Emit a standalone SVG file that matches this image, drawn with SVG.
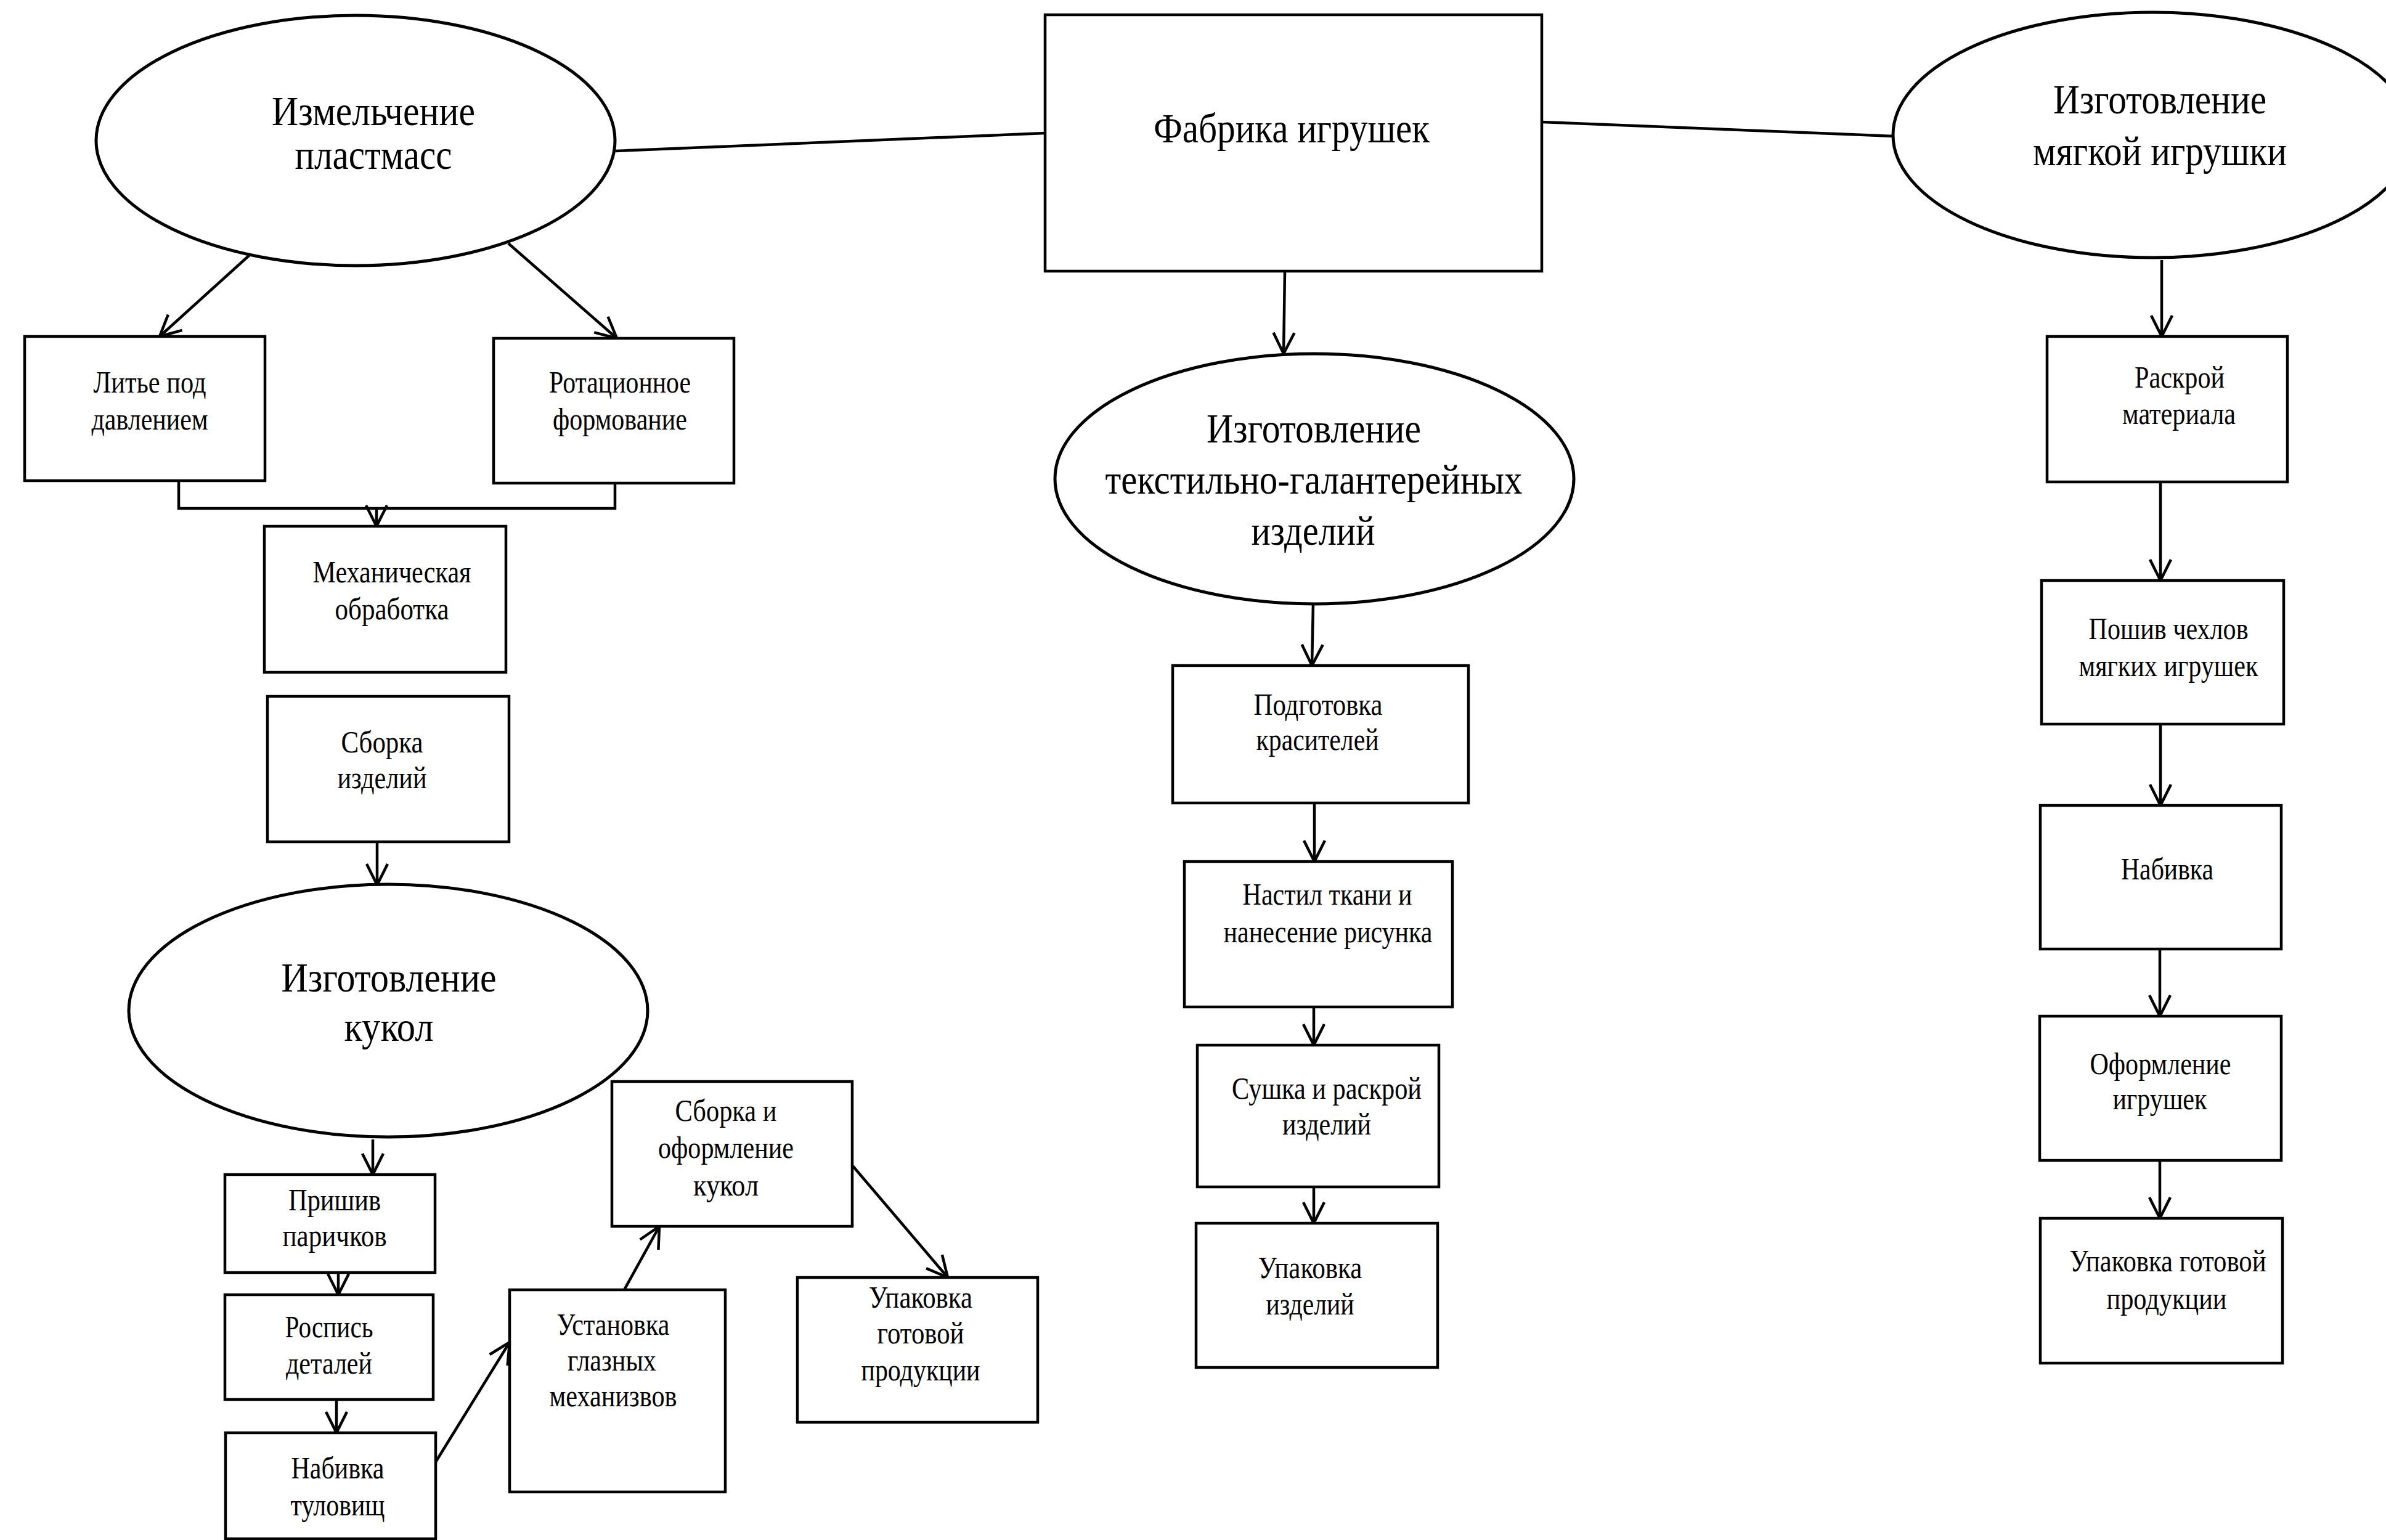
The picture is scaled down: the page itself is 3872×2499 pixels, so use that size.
<svg xmlns="http://www.w3.org/2000/svg" width="3872" height="2499" viewBox="0 0 3872 2499">
<defs>
<marker id="arr" markerUnits="userSpaceOnUse" markerWidth="50" markerHeight="50" refX="0" refY="0" viewBox="-40 -25 50 50" orient="auto" overflow="visible">
<path d="M-34,-17 L0,0 L-34,17" fill="none" stroke="#000" stroke-width="4.5"/>
</marker>
<style>
.n rect,.n ellipse{fill:#fff;stroke:#000;stroke-width:4.5}
.n ellipse{stroke-width:5}
.c line,.c polyline{stroke:#000;stroke-width:4.5;fill:none}
.a{marker-end:url(#arr)}
text{font-family:"Liberation Serif","Times New Roman",serif;fill:#000;text-anchor:middle}
.L{font-size:68px}
.S{font-size:50px}
</style>
</defs>
<rect x="0" y="0" width="3872" height="2499" style="fill:#fff;stroke:none"/>

<g class="c" id="connectors">
<line class="a" x1="406" y1="413" x2="259" y2="546"/>
<line class="a" x1="825" y1="395" x2="1001" y2="549"/>
<polyline points="290,780 290,825 998,825 998,784"/>
<line class="a" x1="611" y1="825" x2="611" y2="854"/>
<line x1="999" y1="245" x2="1696" y2="216"/>
<line x1="2502" y1="198" x2="3072" y2="221"/>
<line class="a" x1="2085" y1="440" x2="2083" y2="574"/>
<line class="a" x1="2131" y1="980" x2="2129" y2="1080"/>
<line class="a" x1="2133" y1="1303" x2="2133" y2="1398"/>
<line class="a" x1="2132" y1="1634" x2="2132" y2="1696"/>
<line class="a" x1="2132" y1="1926" x2="2132" y2="1985"/>
<line class="a" x1="3508" y1="422" x2="3508" y2="546"/>
<line class="a" x1="3506" y1="782" x2="3506" y2="942"/>
<line class="a" x1="3506" y1="1175" x2="3506" y2="1307"/>
<line class="a" x1="3505" y1="1540" x2="3505" y2="1649"/>
<line class="a" x1="3505" y1="1883" x2="3505" y2="1977"/>
<line class="a" x1="612" y1="1366" x2="612" y2="1436"/>
<line class="a" x1="605" y1="1849" x2="605" y2="1906"/>
<line class="a" x1="549" y1="2065" x2="549" y2="2101"/>
<line class="a" x1="546" y1="2271" x2="546" y2="2325"/>
<line class="a" x1="706" y1="2374" x2="827" y2="2178"/>
<line class="a" x1="1013" y1="2093" x2="1070" y2="1990"/>
<line class="a" x1="1383" y1="1891" x2="1538" y2="2073"/>
</g>

<g class="n" id="n-plastic">
<ellipse cx="577" cy="228" rx="421" ry="203"/>
<text class="L" x="606" y="203" textLength="330" lengthAdjust="spacingAndGlyphs">Измельчение</text>
<text class="L" x="606" y="274" textLength="255" lengthAdjust="spacingAndGlyphs">пластмасс</text>
</g>
<g class="n" id="n-factory">
<rect x="1696" y="24" width="806" height="416"/>
<text class="L" x="2096" y="231" textLength="448" lengthAdjust="spacingAndGlyphs">Фабрика игрушек</text>
</g>
<g class="n" id="n-soft">
<ellipse cx="3493" cy="219" rx="421" ry="199"/>
<text class="L" x="3505" y="184" textLength="346" lengthAdjust="spacingAndGlyphs">Изготовление</text>
<text class="L" x="3505" y="268" textLength="412" lengthAdjust="spacingAndGlyphs">мягкой игрушки</text>
</g>
<g class="n" id="n-textile">
<ellipse cx="2133" cy="777" rx="421" ry="203"/>
<text class="L" x="2132" y="718" textLength="348" lengthAdjust="spacingAndGlyphs">Изготовление</text>
<text class="L" x="2132" y="801" textLength="677" lengthAdjust="spacingAndGlyphs">текстильно-галантерейных</text>
<text class="L" x="2131" y="884" textLength="201" lengthAdjust="spacingAndGlyphs">изделий</text>
</g>
<g class="n" id="n-dolls">
<ellipse cx="630" cy="1640" rx="421" ry="205"/>
<text class="L" x="631" y="1609" textLength="349" lengthAdjust="spacingAndGlyphs">Изготовление</text>
<text class="L" x="631" y="1689" textLength="145" lengthAdjust="spacingAndGlyphs">кукол</text>
</g>

<g class="n" id="n-lite">
<rect x="40" y="546" width="390" height="234"/>
<text class="S" x="243" y="637" textLength="183" lengthAdjust="spacingAndGlyphs">Литье под</text>
<text class="S" x="243" y="697" textLength="189" lengthAdjust="spacingAndGlyphs">давлением</text>
</g>
<g class="n" id="n-rot">
<rect x="801" y="549" width="390" height="235"/>
<text class="S" x="1006" y="637" textLength="230" lengthAdjust="spacingAndGlyphs">Ротационное</text>
<text class="S" x="1006" y="697" textLength="218" lengthAdjust="spacingAndGlyphs">формование</text>
</g>
<g class="n" id="n-mech">
<rect x="429" y="854" width="392" height="237"/>
<text class="S" x="636" y="945" textLength="257" lengthAdjust="spacingAndGlyphs">Механическая</text>
<text class="S" x="636" y="1005" textLength="185" lengthAdjust="spacingAndGlyphs">обработка</text>
</g>
<g class="n" id="n-assembly">
<rect x="434" y="1130" width="392" height="236"/>
<text class="S" x="620" y="1221" textLength="133" lengthAdjust="spacingAndGlyphs">Сборка</text>
<text class="S" x="620" y="1279" textLength="145" lengthAdjust="spacingAndGlyphs">изделий</text>
</g>
<g class="n" id="n-wigs">
<rect x="365" y="1906" width="341" height="159"/>
<text class="S" x="543" y="1964" textLength="150" lengthAdjust="spacingAndGlyphs">Пришив</text>
<text class="S" x="543" y="2022" textLength="169" lengthAdjust="spacingAndGlyphs">паричков</text>
</g>
<g class="n" id="n-paint">
<rect x="365" y="2101" width="338" height="170"/>
<text class="S" x="534" y="2170" textLength="143" lengthAdjust="spacingAndGlyphs">Роспись</text>
<text class="S" x="534" y="2229" textLength="140" lengthAdjust="spacingAndGlyphs">деталей</text>
</g>
<g class="n" id="n-stuff-body">
<rect x="366" y="2325" width="341" height="172"/>
<text class="S" x="548" y="2399" textLength="151" lengthAdjust="spacingAndGlyphs">Набивка</text>
<text class="S" x="548" y="2459" textLength="153" lengthAdjust="spacingAndGlyphs">туловищ</text>
</g>
<g class="n" id="n-eyes">
<rect x="827" y="2093" width="350" height="328"/>
<text class="S" x="995" y="2166" textLength="183" lengthAdjust="spacingAndGlyphs">Установка</text>
<text class="S" x="993" y="2224" textLength="144" lengthAdjust="spacingAndGlyphs">глазных</text>
<text class="S" x="995" y="2282" textLength="207" lengthAdjust="spacingAndGlyphs">механизвов</text>
</g>
<g class="n" id="n-dollassembly">
<rect x="993" y="1755" width="390" height="235"/>
<text class="S" x="1178" y="1819" textLength="165" lengthAdjust="spacingAndGlyphs">Сборка и</text>
<text class="S" x="1178" y="1879" textLength="220" lengthAdjust="spacingAndGlyphs">оформление</text>
<text class="S" x="1178" y="1940" textLength="106" lengthAdjust="spacingAndGlyphs">кукол</text>
</g>
<g class="n" id="n-dollpack">
<rect x="1294" y="2073" width="390" height="235"/>
<text class="S" x="1494" y="2122" textLength="168" lengthAdjust="spacingAndGlyphs">Упаковка</text>
<text class="S" x="1494" y="2180" textLength="141" lengthAdjust="spacingAndGlyphs">готовой</text>
<text class="S" x="1494" y="2240" textLength="193" lengthAdjust="spacingAndGlyphs">продукции</text>
</g>

<g class="n" id="n-dyes">
<rect x="1903" y="1080" width="480" height="223"/>
<text class="S" x="2139" y="1160" textLength="209" lengthAdjust="spacingAndGlyphs">Подготовка</text>
<text class="S" x="2138" y="1217" textLength="199" lengthAdjust="spacingAndGlyphs">красителей</text>
</g>
<g class="n" id="n-spread">
<rect x="1922" y="1398" width="435" height="236"/>
<text class="S" x="2154" y="1468" textLength="275" lengthAdjust="spacingAndGlyphs">Настил ткани и</text>
<text class="S" x="2155" y="1529" textLength="339" lengthAdjust="spacingAndGlyphs">нанесение рисунка</text>
</g>
<g class="n" id="n-dry">
<rect x="1943" y="1696" width="392" height="230"/>
<text class="S" x="2153" y="1783" textLength="308" lengthAdjust="spacingAndGlyphs">Сушка и раскрой</text>
<text class="S" x="2153" y="1841" textLength="144" lengthAdjust="spacingAndGlyphs">изделий</text>
</g>
<g class="n" id="n-textpack">
<rect x="1941" y="1985" width="392" height="234"/>
<text class="S" x="2126" y="2074" textLength="169" lengthAdjust="spacingAndGlyphs">Упаковка</text>
<text class="S" x="2126" y="2133" textLength="143" lengthAdjust="spacingAndGlyphs">изделий</text>
</g>

<g class="n" id="n-cut">
<rect x="3322" y="546" width="390" height="236"/>
<text class="S" x="3537" y="629" textLength="146" lengthAdjust="spacingAndGlyphs">Раскрой</text>
<text class="S" x="3536" y="688" textLength="184" lengthAdjust="spacingAndGlyphs">материала</text>
</g>
<g class="n" id="n-sew">
<rect x="3313" y="942" width="393" height="233"/>
<text class="S" x="3519" y="1037" textLength="259" lengthAdjust="spacingAndGlyphs">Пошив чехлов</text>
<text class="S" x="3519" y="1097" textLength="291" lengthAdjust="spacingAndGlyphs">мягких игрушек</text>
</g>
<g class="n" id="n-stuff">
<rect x="3311" y="1307" width="391" height="233"/>
<text class="S" x="3517" y="1427" textLength="150" lengthAdjust="spacingAndGlyphs">Набивка</text>
</g>
<g class="n" id="n-decor">
<rect x="3310" y="1649" width="392" height="234"/>
<text class="S" x="3506" y="1743" textLength="229" lengthAdjust="spacingAndGlyphs">Оформление</text>
<text class="S" x="3505" y="1800" textLength="153" lengthAdjust="spacingAndGlyphs">игрушек</text>
</g>
<g class="n" id="n-softpack">
<rect x="3311" y="1977" width="393" height="235"/>
<text class="S" x="3518" y="2063" textLength="319" lengthAdjust="spacingAndGlyphs">Упаковка готовой</text>
<text class="S" x="3516" y="2124" textLength="195" lengthAdjust="spacingAndGlyphs">продукции</text>
</g>
</svg>
